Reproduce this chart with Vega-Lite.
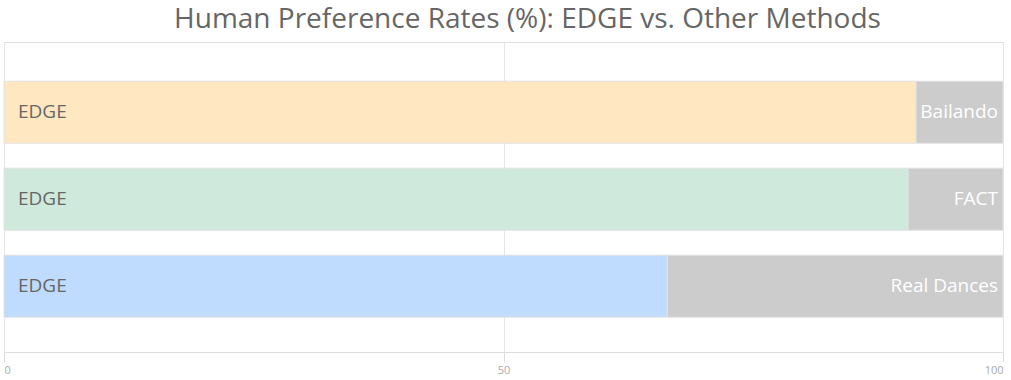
{
  "$schema": "https://vega.github.io/schema/vega-lite/v6.json",
  "width": 999,
  "height": 310,
  "padding": {"left": 3, "top": 6, "right": 9, "bottom": 0},
  "background": "white",
  "title": {
    "text": "Human Preference Rates (%): EDGE vs. Other Methods",
    "font": "Open Sans",
    "fontSize": 28,
    "fontWeight": "normal",
    "color": "#666666",
    "anchor": "middle",
    "offset": 8,
    "dx": 24
  },
  "config": {
    "view": {"stroke": "#dddddd"},
    "font": "Open Sans"
  },
  "data": {
    "values": [
      {"method": "Bailando", "part": "EDGE", "key": "EDGE-Bailando", "ord": 1, "value": 91.3},
      {"method": "Bailando", "part": "Other", "key": "Other", "ord": 2, "value": 8.7},
      {"method": "FACT", "part": "EDGE", "key": "EDGE-FACT", "ord": 1, "value": 90.5},
      {"method": "FACT", "part": "Other", "key": "Other", "ord": 2, "value": 9.5},
      {"method": "Real Dances", "part": "EDGE", "key": "EDGE-Real", "ord": 1, "value": 66.4},
      {"method": "Real Dances", "part": "Other", "key": "Other", "ord": 2, "value": 33.6}
    ]
  },
  "encoding": {
    "y": {
      "field": "method",
      "type": "nominal",
      "sort": ["Bailando", "FACT", "Real Dances"],
      "scale": {"paddingInner": 0.287, "paddingOuter": 0.425, "align": 0.53},
      "axis": null
    }
  },
  "layer": [
    {
      "mark": {"type": "bar", "stroke": "#e2e2e2", "strokeWidth": 1},
      "encoding": {
        "x": {
          "field": "value",
          "type": "quantitative",
          "stack": "zero",
          "scale": {"domain": [0, 100], "nice": false},
          "axis": {
            "values": [0, 50, 100],
            "title": null,
            "grid": true,
            "gridColor": "#e6e6e6",
            "domain": false,
            "tickColor": "#dddddd",
            "tickSize": 10,
            "labelColor": "#aaaaaa",
            "labelFontSize": 11,
            "labelPadding": 2
          }
        },
        "order": {"field": "ord", "type": "quantitative"},
        "color": {
          "field": "key",
          "type": "nominal",
          "scale": {
            "domain": ["EDGE-Bailando", "EDGE-FACT", "EDGE-Real", "Other"],
            "range": ["#ffe7c2", "#cfeadd", "#bfdbfe", "#cccccc"]
          },
          "legend": null
        }
      }
    },
    {
      "transform": [{"filter": "datum.part == 'EDGE'"}],
      "mark": {"type": "text", "align": "left", "dx": 14, "fontSize": 19, "color": "#666666", "font": "Open Sans"},
      "encoding": {
        "x": {"datum": 0, "type": "quantitative"},
        "text": {"value": "EDGE"}
      }
    },
    {
      "transform": [{"filter": "datum.part == 'EDGE'"}],
      "mark": {"type": "text", "align": "right", "dx": -5, "fontSize": 19, "color": "white", "font": "Open Sans"},
      "encoding": {
        "x": {"datum": 100, "type": "quantitative"},
        "text": {"field": "method"}
      }
    }
  ]
}
